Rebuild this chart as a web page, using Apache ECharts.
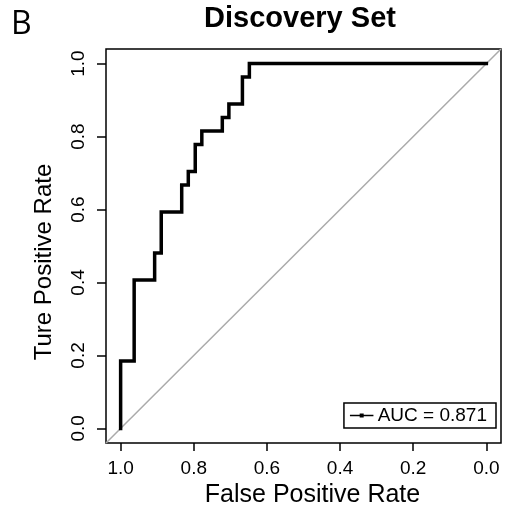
<!DOCTYPE html>
<html>
<head>
<meta charset="utf-8">
<script src="https://cdn.jsdelivr.net/npm/echarts@6/dist/echarts.min.js"></script>
<style>
  html, body { margin: 0; padding: 0; background: #fff; }
  #chart { width: 506px; height: 518px; }
</style>
</head>
<body>
<div id="chart"></div>
<script>
// ROC curve corners: specificity (plotted on a reversed axis) and sensitivity
const specificity = [1.000, 1.000, 0.963, 0.963, 0.907, 0.907, 0.889, 0.889, 0.833, 0.833,
                     0.815, 0.815, 0.796, 0.796, 0.778, 0.778, 0.722, 0.722, 0.704, 0.704,
                     0.667, 0.667, 0.648, 0.648, 0.000];
const sensitivity = [0.000, 0.185, 0.185, 0.407, 0.407, 0.481, 0.481, 0.593, 0.593, 0.667,
                     0.667, 0.704, 0.704, 0.778, 0.778, 0.815, 0.815, 0.852, 0.852, 0.889,
                     0.889, 0.963, 0.963, 1.000, 1.000];

// Chance line, running corner to corner across the padded plot box
const chanceSpec = [1.04, -0.04];
const chanceSens = [-0.04, 1.04];

const tickValues = [0, 0.2, 0.4, 0.6, 0.8, 1.0];

// Area under the stepped curve (sensitivity integrated over falling specificity)
let auc = 0;
for (let i = 1; i < specificity.length; i++) {
  auc += (specificity[i - 1] - specificity[i]) * (sensitivity[i - 1] + sensitivity[i]) / 2;
}
const aucLabel = 'AUC = ' + auc.toFixed(3);

const FONT = '"Liberation Sans", Arial, Helvetica, sans-serif';

const chart = echarts.init(document.getElementById('chart'), null, { renderer: 'canvas' });

chart.setOption({
  animation: false,
  backgroundColor: '#fff',
  title: {
    text: 'Discovery Set',
    left: 300,
    top: 4,
    padding: 0,
    textAlign: 'center',
    textStyle: { fontFamily: FONT, fontSize: 29, fontWeight: 'bold', color: '#000' }
  },
  graphic: [{
    type: 'text',
    left: 11,
    top: 9,
    style: { text: 'B', fontFamily: '"Open Sans", "Noto Sans", sans-serif', fontSize: 32, fill: '#000' }
  }],
  legend: {
    data: [aucLabel],
    right: 10,
    top: 403,
    padding: [3, 9, 3, 6],
    borderColor: '#000',
    borderWidth: 1.5,
    itemWidth: 22,
    itemHeight: 5,
    lineStyle: { width: 1.5 },
    textStyle: { fontFamily: FONT, fontSize: 19, color: '#000' }
  },
  grid: {
    show: true,
    left: 106,
    right: 5,
    top: 49,
    bottom: 75,
    borderColor: '#000',
    borderWidth: 1.5,
    backgroundColor: '#fff'
  },
  xAxis: {
    type: 'value',
    inverse: true,
    min: -0.04,
    max: 1.04,
    name: 'False Positive Rate',
    nameLocation: 'middle',
    nameGap: 40,
    nameTextStyle: { fontFamily: FONT, fontSize: 25, color: '#000', padding: [0, 0, 0, 18] },
    axisLine: { show: false, onZero: false },
    splitLine: { show: false },
    axisTick: { show: true, length: 8, customValues: tickValues, lineStyle: { color: '#000', width: 1.5 } },
    axisLabel: {
      customValues: tickValues,
      margin: 16,
      fontFamily: FONT, fontSize: 19, color: '#000',
      formatter: v => v.toFixed(1)
    }
  },
  yAxis: {
    type: 'value',
    min: -0.04,
    max: 1.04,
    name: 'Ture Positive Rate',
    nameLocation: 'middle',
    nameGap: 50,
    nameTextStyle: { fontFamily: FONT, fontSize: 24, color: '#000', padding: [0, 32, 0, 0] },
    axisLine: { show: false, onZero: false },
    splitLine: { show: false },
    axisTick: { show: true, length: 9, customValues: tickValues, lineStyle: { color: '#000', width: 1.5 } },
    axisLabel: {
      customValues: tickValues,
      rotate: 90,
      margin: 18,
      fontFamily: FONT, fontSize: 19, color: '#000',
      formatter: v => v.toFixed(1)
    }
  },
  series: [
    {
      name: 'chance',
      type: 'line',
      data: chanceSpec.map((s, i) => [s, chanceSens[i]]),
      symbol: 'none',
      silent: true,
      z: 1,
      lineStyle: { color: '#aaaaaa', width: 1.5 }
    },
    {
      name: aucLabel,
      type: 'line',
      data: specificity.map((s, i) => [s, sensitivity[i]]),
      symbol: 'rect',
      showSymbol: false,
      z: 3,
      itemStyle: { color: '#000' },
      lineStyle: { color: '#000', width: 3.5, join: 'miter', cap: 'square' }
    }
  ]
});
</script>
</body>
</html>
